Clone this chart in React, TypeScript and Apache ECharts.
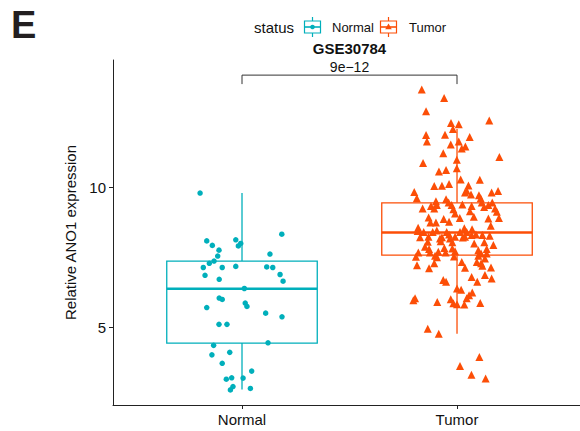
import React, { useEffect, useRef } from "react";
import * as echarts from "echarts";

const categories = ["Normal", "Tumor"];
const groupColors = ["#00AFBB", "#FC4E07"];
const yTickValues = [5, 10];
const chartTitle = "GSE30784";
const pValueLabel = "9e\u221212";
const panelLetter = "E";
const legendTitle = "status";
const yAxisTitle = "Relative ANO1 expression";

// box statistics: [min, q1, median, q3, max]
const normalBox = [2.77, 4.43, 6.37, 7.36, 9.79];
const tumorBox = [4.76, 7.57, 8.38, 9.44, 12.08];

// comparison bracket (data units)
const bracketTop = 14.0;
const bracketLeg = 13.68;

// jittered points: [horizontal jitter offset, expression]
const normalPoints = [
  [-0.195, 9.79], [0.185, 8.32], [-0.164, 8.08], [-0.029, 8.12], [-0.138, 7.92],
  [-0.006, 7.99], [-0.017, 7.9], [-0.107, 7.75], [0.13, 7.61], [-0.113, 7.54],
  [-0.13, 7.36], [-0.152, 7.28], [-0.18, 7.13], [-0.092, 7.13], [-0.029, 7.17],
  [0.115, 7.15], [0.143, 7.13], [-0.172, 6.85], [-0.106, 6.71], [0.177, 6.88],
  [0.191, 6.64], [0.011, 6.38], [-0.106, 6.04], [-0.092, 5.99], [0.015, 5.86],
  [0.023, 5.74], [-0.164, 5.7], [0.11, 5.5], [0.186, 5.37], [-0.107, 5.1],
  [-0.07, 5.1], [0.121, 4.44], [-0.132, 4.35], [-0.14, 4.01], [-0.057, 4.1],
  [-0.092, 3.71], [0.045, 3.43], [-0.073, 3.14], [-0.048, 3.19], [0.005, 3.18],
  [-0.042, 2.88], [-0.054, 2.76], [0.039, 2.81],
];

const tumorPoints = [
  [-0.164, 13.49], [-0.06, 13.18], [-0.144, 12.71], [0.15, 12.38], [-0.028, 12.29],
  [0.008, 12.25], [-0.019, 12.08], [-0.144, 11.86], [-0.056, 11.87], [0.059, 11.79],
  [-0.14, 11.63], [0.008, 11.63], [-0.029, 11.52], [0.039, 11.45], [0.022, 11.38],
  [-0.064, 11.21], [0.197, 11.08], [-0.001, 10.98], [-0.158, 10.86], [-0.051, 10.61],
  [-0.084, 10.56], [-0.001, 10.67], [0.017, 10.27], [0.106, 10.26], [0.053, 10.06],
  [-0.106, 10.04], [-0.07, 10.05], [-0.037, 10.11], [-0.199, 9.83], [-0.187, 9.6],
  [0.037, 9.81], [0.065, 9.74], [0.102, 9.71], [0.11, 9.6], [0.161, 9.81],
  [0.191, 9.86], [0.045, 9.87],
  [-0.098, 9.5], [-0.051, 9.57], [-0.039, 9.45], [-0.025, 9.36], [0.025, 9.38],
  [0.068, 9.33], [0.115, 9.45], [0.126, 9.29], [0.146, 9.36], [0.164, 9.45],
  [-0.16, 9.24], [-0.121, 9.33], [-0.106, 9.24], [-0.094, 9.36], [-0.017, 9.21],
  [-0.009, 9.06], [0.06, 9.14], [0.177, 9.24], [0.185, 9.12], [-0.132, 8.92],
  [-0.062, 8.86], [0.013, 8.9], [0.078, 8.94], [0.146, 8.88], [0.195, 8.9],
  [-0.124, 8.74], [-0.098, 8.74], [-0.037, 8.76], [0.157, 8.62], [-0.181, 8.55],
  [-0.183, 8.43], [-0.155, 8.4], [-0.113, 8.4], [-0.094, 8.45], [-0.048, 8.4],
  [-0.037, 8.31], [0.014, 8.4], [0.034, 8.53], [0.045, 8.4], [0.07, 8.5],
  [0.088, 8.31], [0.118, 8.29], [0.152, 8.26], [-0.133, 8.23], [-0.079, 8.17],
  [-0.009, 8.23], [0.027, 8.2], [-0.07, 8.21], [-0.172, 8.21], [-0.033, 8.17],
  [0.037, 8.23], [0.068, 8.29], [-0.136, 8.05], [-0.076, 8.07], [-0.022, 8.03],
  [0.08, 7.99], [0.127, 8.03], [0.169, 7.93], [-0.149, 7.87], [-0.13, 7.79],
  [-0.059, 7.83], [-0.022, 7.81], [0.099, 7.75], [0.138, 7.79], [-0.18, 7.67],
  [-0.126, 7.67], [-0.087, 7.69], [-0.053, 7.67], [-0.009, 7.71], [0.112, 7.63],
  [0.138, 7.63], [-0.191, 7.51], [-0.102, 7.55], [-0.093, 7.5], [-0.014, 7.52],
  [0.099, 7.55], [0.13, 7.45], [0.022, 7.33], [0.092, 7.33], [0.112, 7.28],
  [-0.186, 7.21], [-0.106, 7.28], [-0.13, 7.1], [0.037, 7.12], [0.118, 7.19],
  [0.158, 7.13], [0.068, 6.79], [0.13, 6.86], [0.161, 6.74], [0.094, 6.62],
  [-0.051, 6.62], [-0.064, 6.68], [0.0, 6.38], [0.019, 6.34], [0.071, 6.24],
  [0.056, 6.14], [0.045, 6.03], [-0.195, 6.03], [-0.203, 5.96], [-0.092, 5.9],
  [-0.029, 6.0], [-0.017, 5.85], [0.0, 5.82], [0.034, 5.81], [0.108, 5.86],
  [-0.136, 4.94], [-0.085, 4.76], [0.104, 3.93], [0.014, 3.61], [0.067, 3.3],
  [0.133, 3.17],
];

const FONT = "'Liberation Sans', Arial, Helvetica, sans-serif";
const BOX_HALF = 0.35;

function legendKey(cx: number, cy: number, color: string, marker: "circle" | "triangle") {
  const children: any[] = [
    { type: "line", shape: { x1: cx, y1: cy - 10, x2: cx, y2: cy - 6 }, style: { stroke: color, lineWidth: 1.2 } },
    { type: "line", shape: { x1: cx, y1: cy + 6, x2: cx, y2: cy + 10 }, style: { stroke: color, lineWidth: 1.2 } },
    { type: "rect", shape: { x: cx - 8, y: cy - 6, width: 16, height: 12 }, style: { fill: "#fff", stroke: color, lineWidth: 1.2 } },
    { type: "line", shape: { x1: cx - 8, y1: cy, x2: cx + 8, y2: cy }, style: { stroke: color, lineWidth: 1.6 } },
  ];
  if (marker === "circle") {
    children.push({ type: "circle", shape: { cx, cy, r: 2.3 }, style: { fill: color } });
  } else {
    children.push({
      type: "polygon",
      shape: { points: [[cx, cy - 3.5], [cx - 3.3, cy + 2.2], [cx + 3.3, cy + 2.2]] },
      style: { fill: color },
    });
  }
  return { type: "group", children };
}

export default function App() {
  const ref = useRef<HTMLDivElement>(null);

  useEffect(() => {
    if (!ref.current) return;
    const chart = echarts.init(ref.current, undefined, { renderer: "svg" });

    const boxData = [
      [1, ...normalBox],
      [2, ...tumorBox],
    ];

    const option: any = {
      animation: false,
      backgroundColor: "#ffffff",
      textStyle: { fontFamily: FONT },
      grid: { left: 113, right: 0, top: 60, bottom: 26, containLabel: false },
      xAxis: {
        type: "value",
        min: 0.4,
        max: 2.572,
        axisLine: { show: true, lineStyle: { color: "#222", width: 1 } },
        axisTick: { show: true, customValues: [1, 2], length: 4, lineStyle: { color: "#222" } },
        axisLabel: {
          customValues: [1, 2],
          formatter: (v: number) => categories[Math.round(v) - 1] ?? "",
          fontSize: 15,
          color: "#111",
          margin: 7,
          fontFamily: FONT,
        },
        splitLine: { show: false },
      },
      yAxis: {
        type: "value",
        min: 2.22,
        max: 14.54,
        name: yAxisTitle,
        nameLocation: "middle",
        nameRotate: 90,
        nameGap: 29,
        nameTextStyle: { fontSize: 15, color: "#111", fontFamily: FONT },
        axisLine: { show: true, lineStyle: { color: "#222", width: 1 } },
        axisTick: { show: true, customValues: yTickValues, length: 4, lineStyle: { color: "#222" } },
        axisLabel: { customValues: yTickValues, fontSize: 15, color: "#111", margin: 7, fontFamily: FONT },
        splitLine: { show: false },
      },
      graphic: [
        {
          type: "text",
          left: 11,
          top: 6,
          style: { text: panelLetter, font: `bold 38px ${FONT}`, fill: "#231f20" },
        },
        {
          type: "text",
          x: 254,
          y: 27,
          style: { text: legendTitle, font: `15px ${FONT}`, fill: "#111", textVerticalAlign: "middle", verticalAlign: "middle" },
        },
        legendKey(312.5, 27, groupColors[0], "circle"),
        {
          type: "text",
          x: 332,
          y: 27,
          style: { text: categories[0], font: `13px ${FONT}`, fill: "#111", textVerticalAlign: "middle", verticalAlign: "middle" },
        },
        legendKey(388.5, 27, groupColors[1], "triangle"),
        {
          type: "text",
          x: 409,
          y: 27,
          style: { text: categories[1], font: `13px ${FONT}`, fill: "#111", textVerticalAlign: "middle", verticalAlign: "middle" },
        },
        {
          type: "text",
          x: 349.5,
          y: 48,
          style: {
            text: chartTitle,
            font: `bold 15px ${FONT}`,
            fill: "#111",
            textAlign: "center",
            align: "center",
            textVerticalAlign: "middle",
            verticalAlign: "middle",
          },
        },
      ],
      series: [
        {
          type: "custom",
          name: "box",
          data: boxData,
          encode: { x: 0, y: [1, 2, 3, 4, 5] },
          z: 1,
          renderItem: (params: any, api: any) => {
            const x = api.value(0);
            const mn = api.value(1);
            const q1 = api.value(2);
            const md = api.value(3);
            const q3 = api.value(4);
            const mx = api.value(5);
            const color = groupColors[params.dataIndex];
            const hw = api.size([BOX_HALF, 0])[0];
            const c = api.coord([x, md]);
            const yMn = api.coord([x, mn])[1];
            const yQ1 = api.coord([x, q1])[1];
            const yQ3 = api.coord([x, q3])[1];
            const yMx = api.coord([x, mx])[1];
            const st = { stroke: color, lineWidth: 1.3, fill: "none" };
            return {
              type: "group",
              children: [
                { type: "line", shape: { x1: c[0], y1: yMx, x2: c[0], y2: yQ3 }, style: st },
                { type: "line", shape: { x1: c[0], y1: yQ1, x2: c[0], y2: yMn }, style: st },
                { type: "rect", shape: { x: c[0] - hw, y: yQ3, width: 2 * hw, height: yQ1 - yQ3 }, style: st },
                { type: "line", shape: { x1: c[0] - hw, y1: c[1], x2: c[0] + hw, y2: c[1] }, style: { stroke: color, lineWidth: 2.6 } },
              ],
            };
          },
        },
        {
          type: "scatter",
          name: categories[0],
          data: normalPoints.map(([dx, v]) => [1 + dx, v]),
          symbol: "circle",
          symbolSize: 5.5,
          itemStyle: { color: groupColors[0], opacity: 1 },
          z: 3,
        },
        {
          type: "scatter",
          name: categories[1],
          data: tumorPoints.map(([dx, v]) => [2 + dx, v]),
          symbol: "triangle",
          symbolSize: 8,
          itemStyle: { color: groupColors[1], opacity: 1 },
          z: 3,
        },
        {
          type: "custom",
          name: "bracket",
          data: [[1, 2, bracketTop, bracketLeg]],
          encode: { x: [0, 1], y: [2, 3] },
          z: 4,
          renderItem: (params: any, api: any) => {
            const pA = api.coord([api.value(0), api.value(2)]);
            const pB = api.coord([api.value(1), api.value(2)]);
            const legY = api.coord([api.value(0), api.value(3)])[1];
            return {
              type: "group",
              children: [
                {
                  type: "polyline",
                  shape: { points: [[pA[0], legY], [pA[0], pA[1]], [pB[0], pB[1]], [pB[0], legY]] },
                  style: { stroke: "#333", lineWidth: 1, fill: "none" },
                },
                {
                  type: "text",
                  x: (pA[0] + pB[0]) / 2,
                  y: pA[1] - 1,
                  style: {
                    text: pValueLabel,
                    font: `14px ${FONT}`,
                    fill: "#111",
                    textAlign: "center",
                    align: "center",
                    textVerticalAlign: "bottom",
                    verticalAlign: "bottom",
                  },
                },
              ],
            };
          },
        },
      ],
    };

    chart.setOption(option);
    return () => chart.dispose();
  }, []);

  return (
    <div
      ref={ref}
      style={{ position: "fixed", left: 0, top: 0, width: 580, height: 431, background: "#fff" }}
    />
  );
}
